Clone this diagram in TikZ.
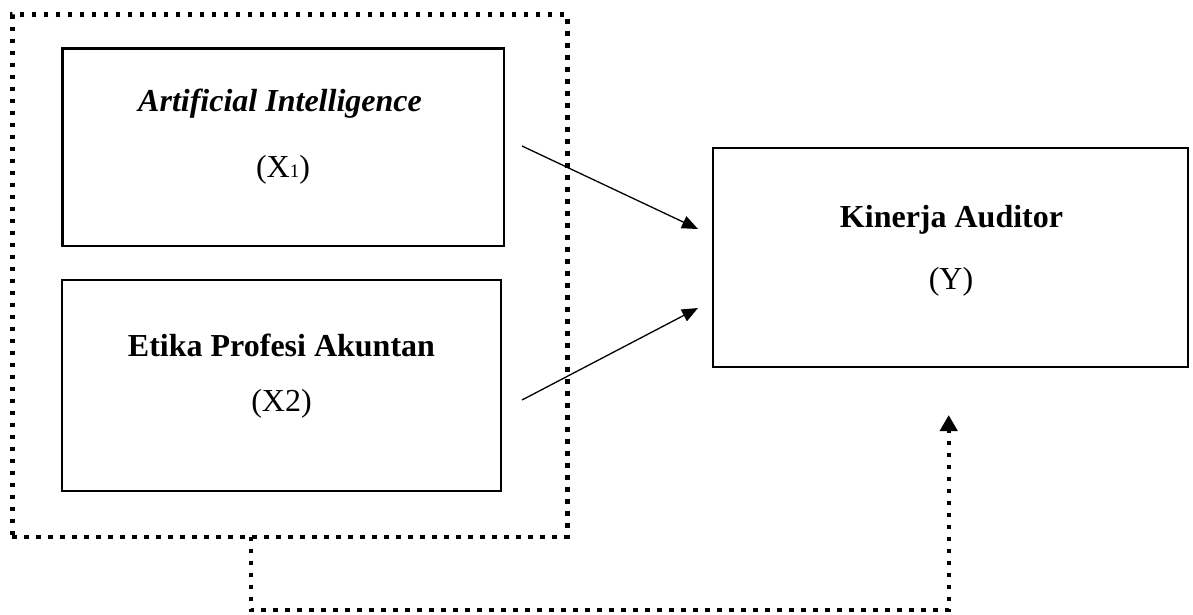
\documentclass[tikz,border=0pt]{standalone}
\usepackage{fontspec}
\setmainfont{Liberation Serif}
\usetikzlibrary{arrows.meta}
\begin{document}
\begin{tikzpicture}[x=1pt,y=-1pt,
  box/.style={draw,line width=2.5pt,inner sep=0pt},
  dotline/.style={line width=4.4pt,dash pattern=on 4.4pt off 7.6pt},
  lab/.style={anchor=base,inner sep=0pt,font=\fontsize{32}{38}\selectfont},
  arr/.style={line width=1.3pt,-{Triangle[length=16pt,width=13pt]}}]
\useasboundingbox (0,0) rectangle (1193,615);
% dotted frame
\node[draw,dotline,inner sep=0pt,minimum width=555pt,minimum height=522pt] (frame) at (289.9,275.7) {};
% boxes
\node[box,minimum width=441.7pt,minimum height=197.3pt] (x1) at (283.2,147.4) {};
\node[box,minimum width=439pt,minimum height=211pt] (x2) at (281.5,385.5) {};
\node[box,minimum width=475pt,minimum height=219pt] (y) at (950.5,257.5) {};
% labels
\node[lab] (x1name) at (280,111.7) {\textbf{\textit{Artificial Intelligence}}};
\node[lab] (x1code) at (283,177) {(X{\fontsize{19}{22}\selectfont 1})};
\node[lab] (x2name) at (281.5,356) {\textbf{Etika Profesi Akuntan}};
\node[lab] (x2code) at (281.5,411.7) {(X2)};
\node[lab] (yname) at (951.5,227) {\textbf{Kinerja Auditor}};
\node[lab] (ycode) at (951,289) {(Y)};
% arrows
\coordinate (a1s) at (522,146);
\coordinate (a1e) at (698,229);
\coordinate (a2s) at (522,400);
\coordinate (a2e) at (698,308);
\draw[arr] (a1s) -- (a1e);
\draw[arr] (a2s) -- (a2e);
% dotted connector
\coordinate (drop) at (250.7,536.7);
\coordinate (c1) at (250.7,610);
\coordinate (c2) at (948.7,610);
\coordinate (tip) at (948.7,415);
\draw[dotline,-{Triangle[length=16pt,width=17pt]}] (drop) -- (c1) -- (c2) -- (tip);
\end{tikzpicture}
\end{document}
